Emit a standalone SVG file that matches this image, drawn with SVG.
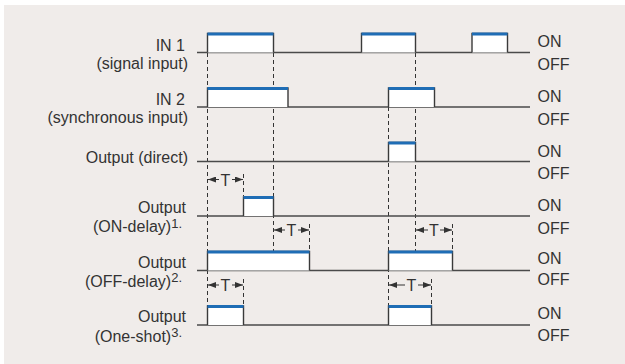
<svg xmlns="http://www.w3.org/2000/svg" width="625" height="364" viewBox="0 0 625 364">
<style>
.txt{font-family:"Liberation Sans",Arial,sans-serif;font-size:16px;fill:#333}
.lbl{text-anchor:end}
.sup{font-size:13px}
.t{font-size:16px;text-anchor:middle}
.base{stroke:#4a4a4a;stroke-width:1.5;fill:none}
.dash{stroke:#333;stroke-width:1;stroke-dasharray:4 3;fill:none}
.pulse{fill:#fff;stroke:#3a3a3a;stroke-width:1.4}
.top{stroke:#1f6db5;stroke-width:3;fill:none}
.arr{stroke:#333;stroke-width:1;fill:none;marker-end:url(#ah)}
</style>
<defs>
<marker id="ah" viewBox="0 0 8 6" refX="8" refY="3" markerWidth="8" markerHeight="6" markerUnits="userSpaceOnUse" orient="auto">
<path d="M0,0 L8,3 L0,6 Z" fill="#333"/>
</marker>
</defs>
<rect x="0" y="0" width="625" height="364" fill="#fff"/>
<rect x="4" y="5" width="621" height="359" fill="#f0ecea"/>

<g id="connectors">
<path class="dash" d="M207.5,53 V306"/>
<path class="dash" d="M273.5,53 V251"/>
<path class="dash" d="M243.5,174 V196"/>
<path class="dash" d="M309.5,224 V251"/>
<path class="dash" d="M243.5,279 V306"/>
<path class="dash" d="M388.5,107 V306"/>
<path class="dash" d="M415.5,53 V251"/>
<path class="dash" d="M452.5,224 V251"/>
<path class="dash" d="M431.5,279 V306"/>
</g>

<g id="in1">
<path class="base" d="M197,52.5 H530"/>
<path class="pulse" d="M207.5,52.5 V33.5 H273.5 V52.5"/>
<path class="top" d="M207.5,34 H273.5"/>
<path class="pulse" d="M361.5,52.5 V33.5 H415.5 V52.5"/>
<path class="top" d="M361.5,34 H415.5"/>
<path class="pulse" d="M472,52.5 V33.5 H507.5 V52.5"/>
<path class="top" d="M472,34 H507.5"/>
<text class="txt lbl" x="185" y="51">IN 1</text>
<text class="txt lbl" x="188" y="68.5">(signal input)</text>
<text class="txt" x="537.5" y="47">ON</text>
<text class="txt" x="537.5" y="69.5">OFF</text>
</g>

<g id="in2">
<path class="base" d="M197,107 H530"/>
<path class="pulse" d="M207.5,107 V88 H288 V107"/>
<path class="top" d="M207.5,88.5 H288"/>
<path class="pulse" d="M388.5,107 V88 H434.5 V107"/>
<path class="top" d="M388.5,88.5 H434.5"/>
<text class="txt lbl" x="185" y="104.5">IN 2</text>
<text class="txt lbl" x="188" y="122.5">(synchronous input)</text>
<text class="txt" x="537.5" y="102">ON</text>
<text class="txt" x="537.5" y="125">OFF</text>
</g>

<g id="direct">
<path class="base" d="M197,161.5 H530"/>
<path class="pulse" d="M388.5,161.5 V142.5 H415.5 V161.5"/>
<path class="top" d="M388.5,143 H415.5"/>
<text class="txt lbl" x="188" y="163">Output (direct)</text>
<text class="txt" x="537.5" y="157">ON</text>
<text class="txt" x="537.5" y="178.5">OFF</text>
</g>

<g id="ondelay">
<path class="base" d="M197,216 H530"/>
<path class="pulse" d="M243.5,216 V197 H273.5 V216"/>
<path class="top" d="M243.5,197.5 H273.5"/>
<path class="arr" d="M219,179.5 H208"/>
<path class="arr" d="M232,179.5 H243"/>
<text class="txt t" x="225.5" y="185.5">T</text>
<text class="txt lbl" x="186" y="213">Output</text>
<text class="txt lbl" x="182" y="232">(ON-delay)<tspan class="sup" dy="-4.5">1.</tspan></text>
<text class="txt" x="537.5" y="211">ON</text>
<text class="txt" x="537.5" y="234">OFF</text>
</g>

<g id="offdelay">
<path class="base" d="M197,270.5 H530"/>
<path class="pulse" d="M207.5,270.5 V251.5 H309.5 V270.5"/>
<path class="top" d="M207.5,252 H309.5"/>
<path class="pulse" d="M388.5,270.5 V251.5 H452.5 V270.5"/>
<path class="top" d="M388.5,252 H452.5"/>
<path class="arr" d="M285,230 H274"/>
<path class="arr" d="M298,230 H309"/>
<text class="txt t" x="291.5" y="236">T</text>
<path class="arr" d="M428,230 H416"/>
<path class="arr" d="M440,230 H452"/>
<text class="txt t" x="434" y="236">T</text>
<text class="txt lbl" x="186" y="267.5">Output</text>
<text class="txt lbl" x="182" y="286.5">(OFF-delay)<tspan class="sup" dy="-4.5">2.</tspan></text>
<text class="txt" x="537.5" y="263.5">ON</text>
<text class="txt" x="537.5" y="285">OFF</text>
</g>

<g id="oneshot">
<path class="base" d="M197,325 H530"/>
<path class="pulse" d="M207.5,325 V306 H243.5 V325"/>
<path class="top" d="M207.5,306.5 H243.5"/>
<path class="pulse" d="M388.5,325 V306 H431.5 V325"/>
<path class="top" d="M388.5,306.5 H431.5"/>
<path class="arr" d="M219,285 H208"/>
<path class="arr" d="M232,285 H243"/>
<text class="txt t" x="225.5" y="291">T</text>
<path class="arr" d="M405,285 H389"/>
<path class="arr" d="M418,285 H431"/>
<text class="txt t" x="411.5" y="291">T</text>
<text class="txt lbl" x="186" y="322">Output</text>
<text class="txt lbl" x="182" y="341.5">(One-shot)<tspan class="sup" dy="-4.5">3.</tspan></text>
<text class="txt" x="537.5" y="319">ON</text>
<text class="txt" x="537.5" y="341">OFF</text>
</g>
</svg>
